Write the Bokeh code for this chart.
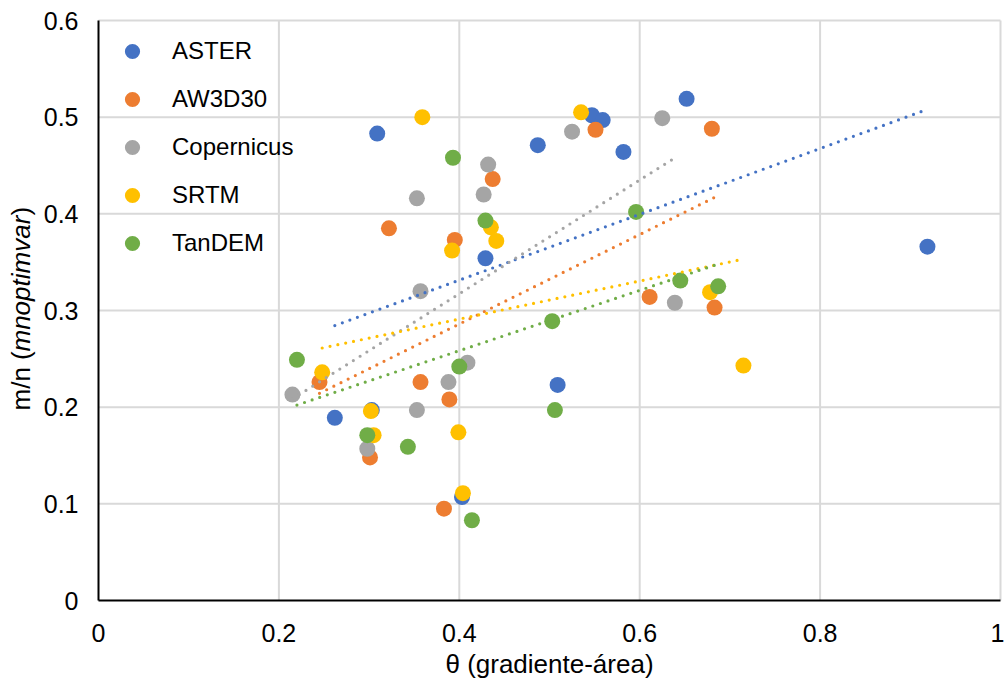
import numpy as np
from bokeh.plotting import figure
from bokeh.models import Range1d, Legend, LegendItem, Label, ColumnDataSource
from bokeh.core.properties import value
from bokeh.embed import file_html
from bokeh.resources import INLINE

series_names = ["ASTER", "AW3D30", "Copernicus", "SRTM", "TanDEM"]
colors = ["#4472C4", "#ED7D31", "#A5A5A5", "#FFC000", "#70AD47"]

aster_x = [0.309, 0.429, 0.262, 0.303, 0.403, 0.509, 0.487, 0.547, 0.559, 0.582, 0.652, 0.919]
aster_y = [0.483, 0.354, 0.189, 0.197, 0.107, 0.223, 0.471, 0.502, 0.497, 0.464, 0.519, 0.366]
aw3d30_x = [0.322, 0.395, 0.437, 0.551, 0.680, 0.245, 0.357, 0.389, 0.301, 0.383, 0.611, 0.683]
aw3d30_y = [0.385, 0.373, 0.436, 0.487, 0.488, 0.226, 0.226, 0.208, 0.148, 0.095, 0.314, 0.303]
copernicus_x = [0.353, 0.432, 0.427, 0.525, 0.625, 0.357, 0.215, 0.388, 0.353, 0.298, 0.409, 0.639]
copernicus_y = [0.416, 0.451, 0.420, 0.485, 0.499, 0.320, 0.213, 0.226, 0.197, 0.157, 0.246, 0.308]
srtm_x = [0.359, 0.392, 0.435, 0.441, 0.535, 0.248, 0.302, 0.305, 0.399, 0.678, 0.715, 0.404]
srtm_y = [0.500, 0.362, 0.386, 0.372, 0.505, 0.236, 0.196, 0.171, 0.174, 0.319, 0.243, 0.111]
tandem_x = [0.393, 0.429, 0.596, 0.220, 0.400, 0.298, 0.343, 0.503, 0.645, 0.687, 0.506, 0.414]
tandem_y = [0.458, 0.393, 0.402, 0.249, 0.242, 0.171, 0.159, 0.289, 0.331, 0.325, 0.197, 0.083]

x_ticks = [0, 0.2, 0.4, 0.6, 0.8, 1]
x_tick_labels = ["0", "0.2", "0.4", "0.6", "0.8", "1"]
y_ticks = [0, 0.1, 0.2, 0.3, 0.4, 0.5, 0.6]
y_tick_labels = ["0", "0.1", "0.2", "0.3", "0.4", "0.5", "0.6"]
x_title = "θ (gradiente-área)"
y_title_parts = ["m/n (", "mnoptimvar", ")"]

xs = [aster_x, aw3d30_x, copernicus_x, srtm_x, tandem_x]
ys = [aster_y, aw3d30_y, copernicus_y, srtm_y, tandem_y]

FONT = "Liberation Sans"

# The frame covers the whole canvas so that axis texts are drawn inside it;
# data 0..1 maps to canvas x 98..1000, data 0..0.6 maps to canvas y 600..20.
PX_X = 902.0
PX_Y = 580.0 / 0.6
p = figure(width=1005, height=684, output_backend="svg", toolbar_location=None,
           x_range=Range1d(-98 / PX_X, 1 + 5 / PX_X),
           y_range=Range1d(-84 / PX_Y, 600 / PX_Y),
           x_axis_location=None, y_axis_location=None,
           min_border_left=0, min_border_right=0, min_border_top=0, min_border_bottom=0)
p.outline_line_color = None
p.background_fill_color = "white"
p.border_fill_color = "white"
p.xgrid.visible = False
p.ygrid.visible = False

# gridlines
GRID = "#D9D9D9"
p.segment(x0=x_ticks[1:], y0=[y_ticks[0]] * (len(x_ticks) - 1),
          x1=x_ticks[1:], y1=[y_ticks[-1]] * (len(x_ticks) - 1),
          line_color=GRID, line_width=2, level="underlay")
p.segment(x0=[x_ticks[0]] * (len(y_ticks) - 1), y0=y_ticks[1:],
          x1=[x_ticks[-1]] * (len(y_ticks) - 1), y1=y_ticks[1:],
          line_color=GRID, line_width=2, level="underlay")

# axis lines
p.segment(x0=[x_ticks[0], x_ticks[0]], y0=[y_ticks[0], y_ticks[0]],
          x1=[x_ticks[0], x_ticks[-1]], y1=[y_ticks[-1], y_ticks[0]],
          line_color="black", line_width=2, level="underlay")

# tick labels
p.text(x=[x_ticks[0]] * len(y_ticks), y=y_ticks, text=y_tick_labels,
       x_offset=-20, text_align="right", text_baseline="middle",
       text_font=value(FONT), text_font_size="25px", text_color="black")
xlab_src = ColumnDataSource(dict(x=x_ticks, y=[y_ticks[0]] * len(x_ticks), text=x_tick_labels,
                                 dx=[0] * (len(x_ticks) - 1) + [-3]))
p.text(x="x", y="y", text="text", x_offset="dx", y_offset=32, source=xlab_src,
       text_align="center", text_baseline="middle",
       text_font=value(FONT), text_font_size="25px", text_color="black")

renderers = []
for x, y, c in zip(xs, ys, colors):
    r = p.scatter(x, y, size=16, fill_color=c, line_color=c, line_width=0)
    renderers.append(r)

for x, y, c in zip(xs, ys, colors):
    xa_ = np.array(x)
    ya_ = np.array(y)
    m, b = np.polyfit(xa_, ya_, 1)
    lx = np.array([xa_.min(), xa_.max()])
    p.line(lx, m * lx + b, line_color=c, line_width=3.2, line_dash="0 8", line_cap="round")

legend = Legend(items=[LegendItem(label=n, renderers=[r]) for n, r in zip(series_names, renderers)],
                location=(113, 422), orientation="vertical",
                glyph_width=38, glyph_height=38, label_height=38, spacing=10,
                label_standoff=21, padding=0, margin=0,
                background_fill_alpha=0, border_line_alpha=0,
                label_text_font=FONT, label_text_font_size="24px", label_text_color="black")
p.add_layout(legend, "center")

# x axis title
p.add_layout(Label(x=549, y=21, x_units="screen", y_units="screen", text=x_title,
                   text_align="center", text_baseline="middle",
                   text_font=FONT, text_font_size="26px", text_color="black"))

# y axis title with italic part
for txt, style, off in zip(y_title_parts, ["normal", "italic", "normal"], [0, 59, 195]):
    p.add_layout(Label(x=20, y=274 + off, x_units="screen", y_units="screen", text=txt,
                       angle=np.pi / 2, text_align="left", text_baseline="middle",
                       text_font=FONT, text_font_size="26px", text_font_style=style,
                       text_color="black"))

open("out.html", "w").write(file_html(p, INLINE))
